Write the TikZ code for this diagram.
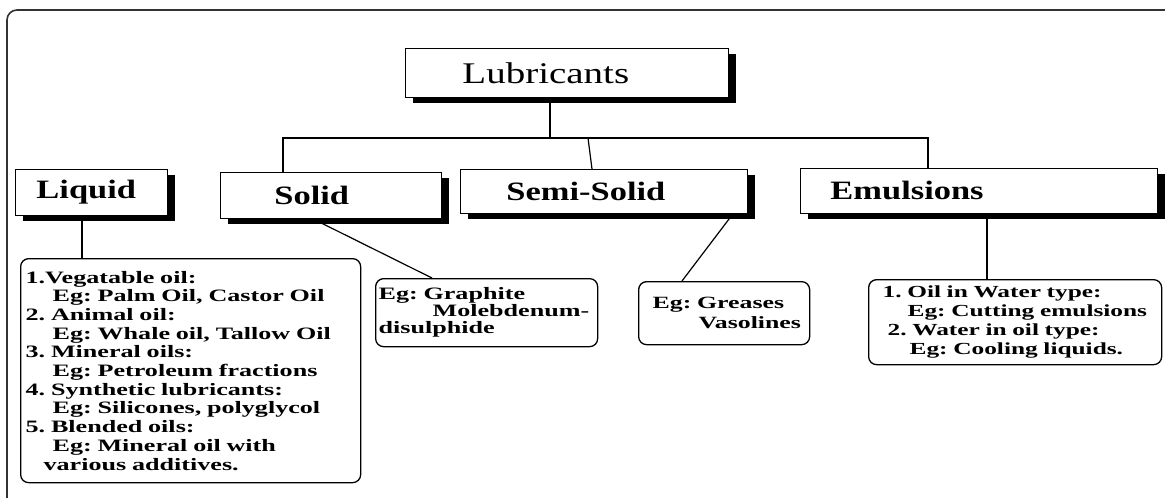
\documentclass[tikz,border=0pt]{standalone}
\usepackage{fontspec}
\setmainfont{Liberation Serif}
\newfontfamily\headfont{Liberation Serif}[FakeStretch=1.3]
\newfontfamily\listfont{Liberation Serif}[FakeStretch=1.5]
\newcommand\nobreaks{\frenchspacing\hyphenpenalty=10000 \exhyphenpenalty=10000 }
\usetikzlibrary{calc,shadows}
\tikzset{
  headbox/.style={draw,line width=0.9pt,fill=white,align=left,anchor=north west,inner ysep=0pt,
    drop shadow={shadow xshift=8pt,shadow yshift=-6pt,opacity=1,fill=black},
    font=\headfont\bfseries\fontsize{26.5}{30}\selectfont},
  listbox/.style={draw,line width=1.3pt,rounded corners=8pt,fill=white,align=left,anchor=north west,inner ysep=0pt,
    font=\listfont\bfseries\nobreaks\fontsize{17.4}{18.7}\selectfont},
  link/.style={line width=1.2pt}
}

\begin{document}
\begin{tikzpicture}[x=1pt,y=-1pt]
  \useasboundingbox (0,0) rectangle (1165,498);
  \clip (0,0) rectangle (1165,498);
  \draw[line width=1.6pt,black!80,rounded corners=10pt] (7,10) rectangle (1185,520);

  \node[headbox,minimum height=49pt,inner xsep=57pt,text width=209pt,
    font=\headfont\fontsize{30}{34}\selectfont] (lub) at (405,48) {Lubricants};
  \node[headbox,minimum height=46pt,inner xsep=21pt,text width=110pt] (liquid) at (15,169) {Liquid};
  \node[headbox,minimum height=46pt,inner xsep=54pt,text width=113pt] (solid) at (220,172) {Solid};
  \node[headbox,minimum height=44pt,inner xsep=46pt,text width=195pt] (semi) at (460,169) {Semi-Solid};
  \node[headbox,minimum height=45pt,inner xsep=30pt,text width=297pt] (emul) at (800,168) {Emulsions};

  \node[listbox,minimum height=224pt,inner xsep=5pt,text width=330pt] (liqlist) at (20,258) {%
    1.Vegatable oil:\\
    \hspace*{27pt}Eg: Palm Oil, Castor Oil\\
    2. Animal oil:\\
    \hspace*{27pt}Eg: Whale oil, Tallow Oil\\
    3. Mineral oils:\\
    \hspace*{27pt}Eg: Petroleum fractions\\
    4. Synthetic lubricants:\\
    \hspace*{27pt}Eg: Silicones, polyglycol\\
    5. Blended oils:\\
    \hspace*{27pt}Eg: Mineral oil with\\
    \hspace*{18pt}various additives.};
  \node[listbox,minimum height=68pt,inner xsep=3pt,text width=216pt,
    font=\listfont\bfseries\nobreaks\fontsize{17.4}{16.9}\selectfont] (graph) at (375,278) {%
    Eg: Graphite\\
    \hspace*{54pt}Molebdenum-\\
    disulphide};
  \node[listbox,minimum height=63pt,inner xsep=10pt,text width=151pt,
    font=\listfont\bfseries\nobreaks\fontsize{17.2}{20}\selectfont] (greas) at (638,281) {%
    \hspace*{4pt}Eg: Greases\\
    \hspace*{50pt}Vasolines};
  \node[listbox,minimum height=85pt,inner xsep=12pt,text width=269pt,
    font=\listfont\bfseries\nobreaks\fontsize{16.9}{18.9}\selectfont] (emlist) at (868,279) {%
    \hspace*{2pt}1. Oil in Water type:\\
    \hspace*{27pt}Eg: Cutting emulsions\\
    \hspace*{7pt}2. Water in oil type:\\
    \hspace*{29pt}Eg: Cooling liquids.};

  \coordinate (busL) at (283,138);
  \coordinate (busR) at (928,138);
  \coordinate (lubfoot) at (550,138);
  \coordinate (semitop) at (588,138);

  \draw[link] (lub.south -| lubfoot) -- (lubfoot);
  \draw[link] (busL |- solid.north) -- (busL) -- (busR) -- (busR |- emul.north);
  \draw[link] (semitop) -- ([xshift=132pt]semi.north west);
  \draw[link] ([xshift=67pt]liquid.south west) -- ([xshift=62pt]liqlist.north west);
  \draw[link] ([xshift=93pt]solid.south west) -- ([xshift=57pt]graph.north west);
  \draw[link] ([xshift=-15pt]semi.south east) -- ([xshift=44pt]greas.north west);
  \draw[link] ([xshift=187pt]emul.south west) -- ([xshift=119pt]emlist.north west);
\end{tikzpicture}
\end{document}
